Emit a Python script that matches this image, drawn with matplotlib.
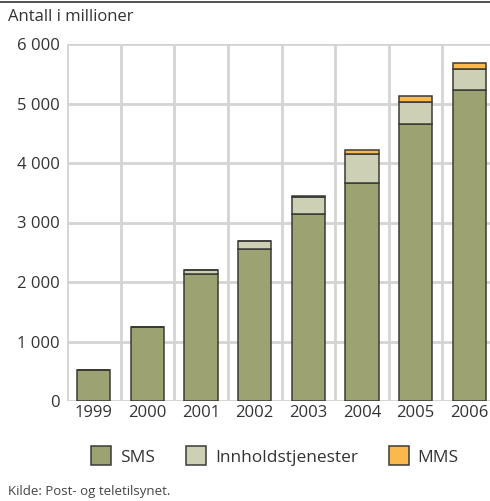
import matplotlib
matplotlib.use("Agg")
import matplotlib.pyplot as plt
from matplotlib.lines import Line2D
import numpy as np

years = ["1999", "2000", "2001", "2002", "2003", "2004", "2005", "2006"]
sms = [520, 1250, 2130, 2550, 3150, 3660, 4650, 5235]
innhold = [0, 0, 80, 135, 280, 495, 370, 350]
mms = [0, 0, 0, 0, 12, 70, 100, 95]
yticks = [0, 1000, 2000, 3000, 4000, 5000, 6000]
ytick_labels = ["0", "1 000", "2 000", "3 000", "4 000", "5 000", "6 000"]

plt.rcParams['font.family'] = ['Open Sans', 'DejaVu Sans']
text_col = '#333333'
grid_col = '#d4d4d4'
edge_col = '#3a3a36'

fig = plt.figure(figsize=(4.9, 5.01), dpi=100)
ax = fig.add_axes([67 / 490, 100 / 501, 429 / 490, 357 / 501])

x = np.arange(len(years))
w = 0.62
sms_arr = np.array(sms)
inn_arr = np.array(innhold)
mms_arr = np.array(mms)

b1 = ax.bar(x, sms_arr, w, color='#9da273', edgecolor=edge_col, linewidth=1.1, zorder=3, label='SMS')
b2 = ax.bar(x, inn_arr, w, bottom=sms_arr, color='#cdd0b4', edgecolor=edge_col,
            linewidth=1.1, zorder=3, label='Innholdstjenester')
b3 = ax.bar(x, mms_arr, w, bottom=sms_arr + inn_arr, color='#fbb84c', edgecolor=edge_col,
            linewidth=1.1, zorder=3, label='MMS')

ax.set_xlim(-0.5, 7.5)
ax.set_ylim(0, 6000)
ax.set_yticks(yticks)
ax.set_yticklabels(ytick_labels)
ax.set_xticks(x)
ax.set_xticklabels(years)

# grid: horizontal at each 1000, vertical between bars
for yv in yticks:
    ax.axhline(yv, color=grid_col, linewidth=2, zorder=1)
for xv in np.arange(-0.5, 8, 1):
    ax.axvline(xv, color=grid_col, linewidth=2, zorder=1)

for s in ax.spines.values():
    s.set_visible(False)
ax.tick_params(length=0, labelsize=12, colors=text_col, pad=5)
ax.tick_params(axis='x', pad=3)

fig.text(8 / 490, 1 - 17 / 501, "Antall i millioner", fontsize=12, color=text_col, va='center', ha='left')
fig.text(8 / 490, 1 - 491 / 501, "Kilde: Post- og teletilsynet.", fontsize=9.5, color='#444444',
         va='center', ha='left')
fig.add_artist(Line2D([0, 1], [1 - 1.5 / 501, 1 - 1.5 / 501], color='#333333', linewidth=1.2))

leg = fig.legend(handles=[b1, b2, b3], loc='center', bbox_to_anchor=(275 / 490, 1 - 456 / 501),
                 ncol=3, frameon=False, fontsize=12.5, handlelength=1.15, handleheight=1.3,
                 handletextpad=0.5, columnspacing=1.8, labelcolor=text_col)

fig.savefig("out.png", dpi=100)
